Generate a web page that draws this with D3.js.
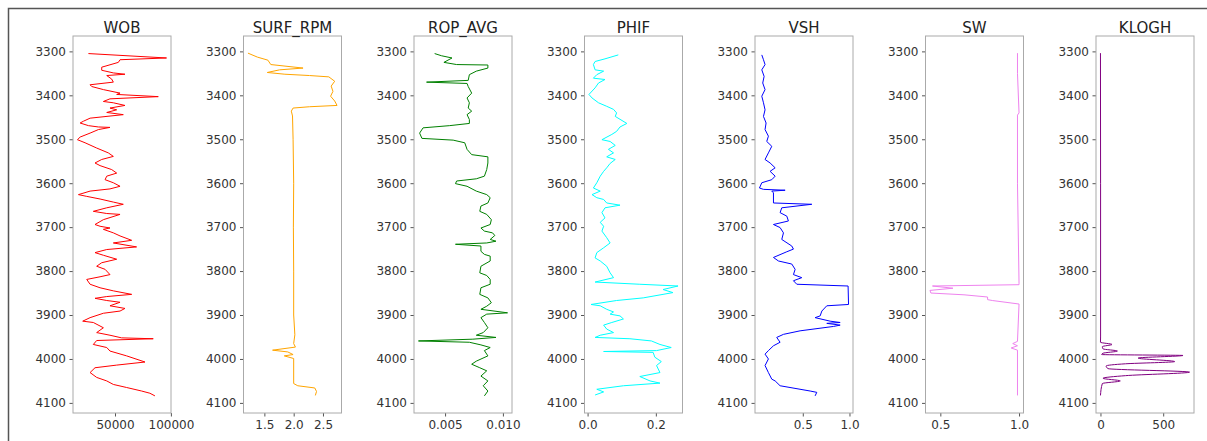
<!DOCTYPE html>
<html>
<head>
<meta charset="utf-8">
<script src="https://cdn.jsdelivr.net/npm/d3@7"></script>
<style>
  body { margin: 0; background: #fff; }
  svg { display: block; }
  text { font-family: "DejaVu Sans", sans-serif; }
</style>
</head>
<body>
<div id="chart"></div>
<script>
// [depth, value] pairs
const wobData = [[3305,26200],[3315,96100],[3319,54500],[3325,53000],[3336,38100],[3343,38100],[3349,48500],[3352,58900],[3355,42600],[3363,47000],[3370,48500],[3376,27700],[3380,29200],[3387,39600],[3395,54500],[3398,51500],[3403,88700],[3408,45500],[3414,39600],[3417,48500],[3423,58900],[3429,45500],[3433,51500],[3439,42600],[3444,57400],[3452,27700],[3459,21700],[3463,18800],[3469,26200],[3472,35100],[3473,45500],[3478,35100],[3486,27700],[3495,18800],[3501,16400],[3508,23200],[3520,33600],[3531,44000],[3539,48500],[3546,38100],[3554,32100],[3560,36600],[3569,47000],[3577,51500],[3584,42600],[3592,41100],[3599,48500],[3607,54500],[3613,45500],[3618,27700],[3626,17300],[3630,24700],[3636,36600],[3643,48500],[3648,57400],[3656,42600],[3664,30600],[3669,42600],[3671,54500],[3683,39600],[3694,32100],[3698,36600],[3702,45500],[3705,39600],[3713,48500],[3720,54500],[3730,64900],[3736,48500],[3745,69300],[3751,42600],[3758,32100],[3764,39600],[3773,51500],[3781,38100],[3789,33600],[3796,41100],[3808,45500],[3813,36600],[3819,24700],[3830,27700],[3838,36600],[3845,48500],[3853,64900],[3858,42600],[3862,32100],[3867,42600],[3871,54500],[3879,45500],[3885,58900],[3891,54500],[3896,39600],[3906,27700],[3914,21100],[3917,30600],[3929,39600],[3940,33600],[3946,45500],[3952,55900],[3954,84200],[3958,33600],[3967,30600],[3974,42600],[3982,45500],[3993,60400],[4007,76800],[4014,51500],[4020,32100],[4031,27700],[4042,33600],[4050,42600],[4058,48500],[4065,60400],[4073,73800],[4078,81200],[4084,85700]];

const rpmData = [[3304,1.22],[3313,1.38],[3320,1.56],[3330,1.61],[3338,2.16],[3342,1.76],[3348,1.55],[3352,1.85],[3355,2.27],[3358,2.60],[3368,2.70],[3379,2.64],[3391,2.67],[3402,2.63],[3413,2.70],[3423,2.74],[3426,2.27],[3429,1.99],[3436,1.96],[3447,1.98],[3500,1.99],[3600,2.0],[3700,1.995],[3800,2.0],[3900,2.0],[3945,2.02],[3965,2.0],[3973,2.03],[3980,1.64],[3984,1.90],[3990,1.99],[3993,1.84],[3999,2.0],[4056,2.0],[4061,2.07],[4066,2.36],[4074,2.39],[4083,2.37]];

const ropData = [[3305,0.0041],[3310,0.0047],[3315,0.0056],[3325,0.0049],[3330,0.0060],[3331,0.0087],[3338,0.0087],[3345,0.0077],[3353,0.0071],[3366,0.0070],[3370,0.0034],[3373,0.0069],[3380,0.0070],[3395,0.0073],[3406,0.0069],[3417,0.0071],[3429,0.0070],[3436,0.0073],[3444,0.0069],[3455,0.0071],[3464,0.0071],[3469,0.0054],[3474,0.0031],[3486,0.0028],[3498,0.0030],[3502,0.0057],[3508,0.0067],[3523,0.0069],[3535,0.0073],[3540,0.0087],[3554,0.0087],[3569,0.0086],[3584,0.0084],[3590,0.0077],[3595,0.0060],[3601,0.0059],[3607,0.0069],[3618,0.0077],[3626,0.0086],[3633,0.0089],[3645,0.0087],[3652,0.0081],[3664,0.0080],[3671,0.0086],[3683,0.0090],[3694,0.0089],[3702,0.0081],[3709,0.0084],[3713,0.0091],[3719,0.0093],[3728,0.0089],[3732,0.0094],[3736,0.0086],[3739,0.0059],[3743,0.0081],[3755,0.0081],[3762,0.0084],[3766,0.0089],[3777,0.0089],[3789,0.0081],[3804,0.0080],[3810,0.0086],[3819,0.0089],[3830,0.0089],[3838,0.0081],[3853,0.0080],[3861,0.0087],[3872,0.0090],[3880,0.0086],[3887,0.0081],[3895,0.0104],[3898,0.0086],[3906,0.0081],[3917,0.0084],[3929,0.0087],[3940,0.0083],[3946,0.0077],[3951,0.0094],[3955,0.0074],[3959,0.0027],[3962,0.0071],[3968,0.0081],[3974,0.0089],[3981,0.0084],[3993,0.0087],[4005,0.0077],[4012,0.0073],[4020,0.0080],[4027,0.0086],[4039,0.0081],[4050,0.0087],[4061,0.0083],[4073,0.0087],[4084,0.0084]];

const phifData = [[3308,0.090],[3317,0.051],[3323,0.022],[3330,0.017],[3342,0.022],[3345,0.047],[3353,0.027],[3361,0.017],[3364,0.051],[3372,0.032],[3383,0.022],[3398,0.004],[3406,0.013],[3417,0.032],[3425,0.056],[3432,0.076],[3440,0.085],[3448,0.081],[3464,0.115],[3472,0.095],[3482,0.085],[3489,0.071],[3501,0.042],[3505,0.066],[3514,0.081],[3523,0.061],[3531,0.076],[3540,0.056],[3546,0.081],[3555,0.066],[3565,0.056],[3573,0.047],[3584,0.037],[3599,0.027],[3611,0.017],[3618,0.037],[3626,0.013],[3633,0.027],[3637,0.047],[3645,0.056],[3650,0.095],[3656,0.051],[3667,0.042],[3679,0.051],[3689,0.037],[3698,0.047],[3709,0.042],[3724,0.056],[3736,0.066],[3747,0.047],[3758,0.027],[3770,0.022],[3777,0.037],[3789,0.056],[3804,0.066],[3815,0.076],[3825,0.022],[3830,0.153],[3834,0.265],[3842,0.221],[3849,0.250],[3853,0.221],[3861,0.163],[3867,0.085],[3876,0.010],[3879,0.037],[3887,0.056],[3893,0.076],[3898,0.066],[3902,0.095],[3909,0.105],[3917,0.071],[3923,0.047],[3932,0.056],[3940,0.076],[3946,0.037],[3951,0.022],[3954,0.124],[3959,0.187],[3967,0.212],[3974,0.245],[3981,0.202],[3983,0.047],[3985,0.192],[3996,0.197],[4006,0.216],[4015,0.202],[4031,0.212],[4040,0.153],[4050,0.183],[4055,0.212],[4061,0.105],[4069,0.027],[4075,0.047],[4082,0.022]];

const vshData = [[3308,0.061],[3319,0.079],[3330,0.096],[3342,0.061],[3357,0.086],[3372,0.071],[3387,0.096],[3402,0.061],[3417,0.079],[3433,0.096],[3448,0.079],[3463,0.107],[3478,0.096],[3493,0.132],[3505,0.114],[3516,0.168],[3531,0.132],[3546,0.096],[3554,0.150],[3565,0.204],[3573,0.150],[3584,0.204],[3592,0.168],[3599,0.061],[3611,0.036],[3614,0.079],[3616,0.311],[3618,0.168],[3622,0.186],[3645,0.186],[3648,0.596],[3656,0.275],[3667,0.257],[3675,0.329],[3686,0.346],[3694,0.186],[3701,0.257],[3713,0.293],[3728,0.275],[3743,0.382],[3750,0.400],[3756,0.329],[3769,0.186],[3777,0.239],[3784,0.382],[3796,0.418],[3808,0.400],[3815,0.489],[3822,0.400],[3830,0.436],[3834,0.985],[3876,0.990],[3879,0.757],[3891,0.704],[3902,0.686],[3906,0.632],[3914,0.793],[3917,0.900],[3919,0.757],[3923,0.900],[3926,0.829],[3936,0.471],[3944,0.293],[3951,0.221],[3962,0.257],[3970,0.186],[3981,0.132],[3989,0.096],[4000,0.132],[4015,0.096],[4031,0.132],[4046,0.168],[4050,0.204],[4061,0.257],[4073,0.579],[4076,0.650],[4084,0.632]];

const swData = [[3304,0.99],[3350,0.99],[3440,1.0],[3445,0.99],[3600,0.99],[3829,1.0],[3831,1.0],[3834,0.45],[3839,0.58],[3844,0.434],[3850,0.44],[3854,0.65],[3859,0.80],[3865,0.80],[3867,0.83],[3875,1.0],[3960,0.99],[3965,0.96],[3970,0.99],[3975,0.95],[3980,0.99],[4083,0.99]];

const kloghData = [[3304,0],[3600,1],[3950,1],[3962,0],[3967,92],[3972,15],[3977,20],[3982,135],[3987,20],[3990,10],[3992,658],[3998,300],[4006,592],[4011,200],[4016,45],[4022,60],[4030,710],[4038,200],[4044,20],[4050,158],[4056,15],[4083,0]];

const titles = ['WOB', 'SURF_RPM', 'ROP_AVG', 'PHIF', 'VSH', 'SW', 'KLOGH'];
const colors = ['red', 'orange', 'green', 'cyan', 'blue', 'violet', 'purple'];
const series = [wobData, rpmData, ropData, phifData, vshData, swData, kloghData];
const depthTicks = [3300, 3400, 3500, 3600, 3700, 3800, 3900, 4000, 4100];
const xTicks = [[50000, 100000], [1.5, 2.0, 2.5], [0.005, 0.010], [0.0, 0.2], [0.5, 1.0], [0.5, 1.0], [0, 500]];
const xFormats = ['d', '.1f', '.3f', '.1f', '.1f', '.1f', 'd'];

const width = 1207, height = 441;
const panelLeft = 73, panelStep = 170.5, panelW = 98;
const plotTop = 36, plotBottom = 413;

function pad(ext) {
    const r = ext[1] - ext[0];
    return [ext[0] - r * 0.05, ext[1] + r * 0.05];
}

const svg = d3.select('#chart')
    .append('svg')
    .attr('width', width)
    .attr('height', height);

// outer frame of the screenshot
svg.append('path')
    .attr('d', 'M8.5,441V8.5H1207')
    .attr('fill', 'none')
    .attr('stroke', '#555')
    .attr('stroke-width', 1.5);

const allDepths = series.flatMap(s => s.map(d => d[0]));
const y = d3.scaleLinear()
    .domain(pad(d3.extent(allDepths)))
    .range([plotTop, plotBottom]);

series.forEach((data, i) => {
    const g = svg.append('g')
        .attr('transform', 'translate(' + (panelLeft + i * panelStep) + ',0)');

    const x = d3.scaleLinear()
        .domain(pad(d3.extent(data, d => d[1])))
        .range([0, panelW]);

    const line = d3.line()
        .x(d => x(d[1]))
        .y(d => y(d[0]))
        .curve(i === 6 ? d3.curveMonotoneY : d3.curveLinear);

    g.append('path')
        .datum(data)
        .attr('d', line)
        .attr('fill', 'none')
        .attr('stroke', colors[i])
        .attr('stroke-width', 1);

    const yAxis = d3.axisLeft(y)
        .tickValues(depthTicks)
        .tickFormat(d3.format('d'))
        .tickSize(3.5)
        .tickPadding(3.5);

    const xAxis = d3.axisBottom(x)
        .tickValues(xTicks[i])
        .tickFormat(d3.format(xFormats[i]))
        .tickSize(3.5)
        .tickPadding(3.5);

    g.append('g')
        .attr('class', 'y-axis')
        .call(yAxis);

    g.append('g')
        .attr('class', 'x-axis')
        .attr('transform', 'translate(0,' + plotBottom + ')')
        .call(xAxis);

    g.selectAll('.domain').remove();
    g.selectAll('.tick line').attr('stroke', '#555');
    g.selectAll('.tick text')
        .attr('fill', '#333')
        .style('font-size', '12px')
        .style('font-family', '"DejaVu Sans", sans-serif');

    g.append('rect')
        .attr('x', 0)
        .attr('y', plotTop)
        .attr('width', panelW)
        .attr('height', plotBottom - plotTop)
        .attr('fill', 'none')
        .attr('stroke', '#aaa')
        .attr('stroke-width', 1);

    g.append('text')
        .attr('x', panelW / 2)
        .attr('y', 33)
        .attr('text-anchor', 'middle')
        .attr('fill', '#222')
        .style('font-size', '15px')
        .text(titles[i]);
});
</script>
</body>
</html>
